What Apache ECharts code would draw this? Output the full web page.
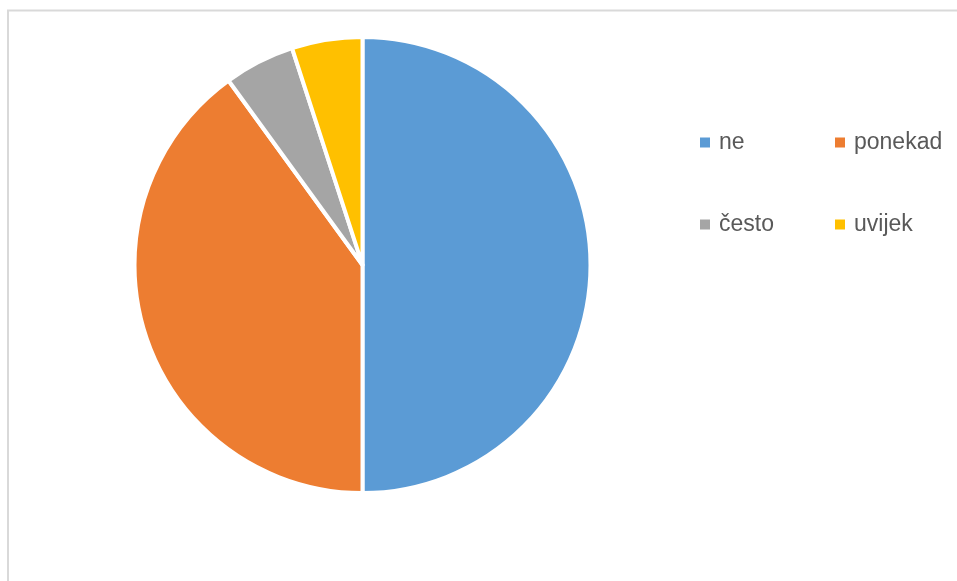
<!DOCTYPE html>
<html><head><meta charset="utf-8">
<script src="https://cdn.jsdelivr.net/npm/echarts@6/dist/echarts.min.js"></script>
<style>html,body{margin:0;padding:0;background:#fff}#c{width:957px;height:581px}</style>
</head><body><div id="c"></div>
<script>
const categories = ['ne', 'ponekad', 'često', 'uvijek'];
const values = [50, 40, 5, 5];
const colors = ['#5B9BD5', '#ED7D31', '#A5A5A5', '#FFC000'];

const chart = echarts.init(document.getElementById('c'), null, {renderer: 'canvas'});
const legendPos = [[700, 131], [835, 131], [700, 213], [835, 213]];
const legendFont = {fontFamily: 'Liberation Sans, Arial, sans-serif', fontSize: 23, color: '#595959', padding: [0, 0, 0, 4]};
chart.setOption({
  animation: false,
  backgroundColor: '#fff',
  color: colors,
  graphic: [{
    type: 'rect', shape: {x: 8, y: 10.5, width: 1000, height: 700},
    style: {fill: 'none', stroke: '#D9D9D9', lineWidth: 2}, silent: true, z: -1
  }],
  legend: categories.map((c, i) => ({
    data: [c], left: legendPos[i][0], top: legendPos[i][1],
    icon: 'rect', itemWidth: 10, itemHeight: 10, padding: 0,
    itemStyle: {borderWidth: 0},
    textStyle: legendFont
  })),
  series: [{
    type: 'pie',
    center: [362.5, 265],
    radius: 228,
    startAngle: 90,
    clockwise: true,
    label: {show: false},
    labelLine: {show: false},
    itemStyle: {borderColor: '#fff', borderWidth: 4},
    emphasis: {disabled: true},
    data: categories.map((c, i) => ({name: c, value: values[i]}))
  }]
});
</script></body></html>
